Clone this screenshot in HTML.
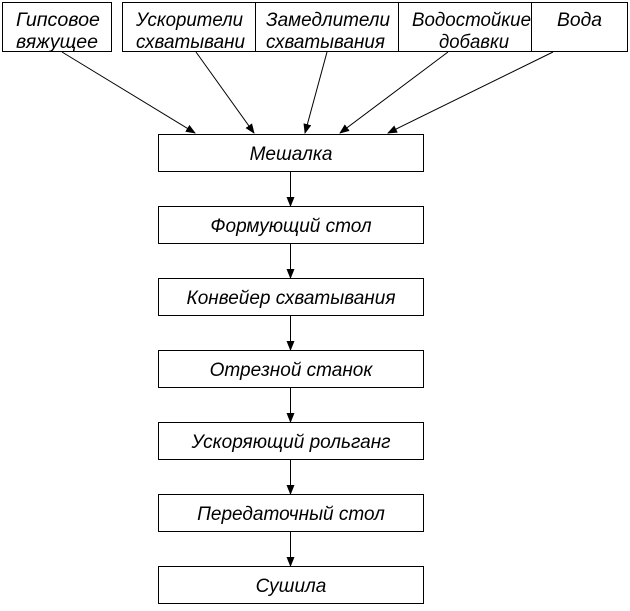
<!DOCTYPE html>
<html><head><meta charset="utf-8"><style>
body{margin:0;background:#fff;width:630px;height:606px;overflow:hidden}
svg text{font-family:"Liberation Sans",sans-serif;font-style:italic;font-size:19px;fill:#000}
</style></head><body>
<svg width="630" height="606" xmlns="http://www.w3.org/2000/svg">
<defs><marker id="a" markerWidth="10" markerHeight="8" refX="9" refY="4" orient="auto" markerUnits="userSpaceOnUse"><path d="M0,0 L10,4 L0,8 z" fill="#000"/></marker></defs>
<g fill="#fff" stroke="#000" stroke-width="1">
<rect x="2.5" y="2.5" width="109" height="49"/>
<rect x="122.5" y="2.5" width="133" height="49"/>
<rect x="255.5" y="2.5" width="143" height="49"/>
<rect x="398.5" y="2.5" width="133" height="49"/>
<rect x="531.5" y="2.5" width="96" height="49"/>
<rect x="158.5" y="134.5" width="265" height="37"/>
<rect x="158.5" y="206.5" width="265" height="37"/>
<rect x="158.5" y="278.5" width="265" height="37"/>
<rect x="158.5" y="350.5" width="265" height="37"/>
<rect x="158.5" y="422.5" width="265" height="37"/>
<rect x="158.5" y="494.5" width="265" height="37"/>
<rect x="158.5" y="566.5" width="265" height="37"/>
</g>
<g stroke="#000" stroke-width="1" marker-end="url(#a)">
<line x1="62" y1="52" x2="195" y2="133"/>
<line x1="196" y1="52" x2="254" y2="133"/>
<line x1="327" y1="52" x2="305" y2="133"/>
<line x1="448" y1="52" x2="340" y2="133"/>
<line x1="553" y1="52" x2="388" y2="133"/>
<line x1="290.5" y1="172" x2="290.5" y2="206"/>
<line x1="290.5" y1="244" x2="290.5" y2="278"/>
<line x1="290.5" y1="316" x2="290.5" y2="350"/>
<line x1="290.5" y1="388" x2="290.5" y2="422"/>
<line x1="290.5" y1="460" x2="290.5" y2="494"/>
<line x1="290.5" y1="532" x2="290.5" y2="566"/>
</g>
<g textLength="0">
<text x="16" y="26" textLength="84" lengthAdjust="spacingAndGlyphs">Гипсовое</text><text x="16" y="48" textLength="82" lengthAdjust="spacingAndGlyphs">вяжущее</text>
<text x="136" y="26" textLength="107" lengthAdjust="spacingAndGlyphs">Ускорители</text><text x="136" y="48" textLength="109" lengthAdjust="spacingAndGlyphs">схватывани</text>
<text x="266" y="26" textLength="124" lengthAdjust="spacingAndGlyphs">Замедлители</text><text x="266" y="48" textLength="119" lengthAdjust="spacingAndGlyphs">схватывания</text>
<text x="412" y="26" textLength="119" lengthAdjust="spacingAndGlyphs">Водостойкие</text><text x="439" y="48" textLength="70" lengthAdjust="spacingAndGlyphs">добавки</text>
<text x="557" y="26" textLength="45" lengthAdjust="spacingAndGlyphs">Вода</text>
</g>
<g text-anchor="middle">
<text x="291" y="160">Мешалка</text>
<text x="291" y="232">Формующий стол</text>
<text x="291" y="304">Конвейер схватывания</text>
<text x="291" y="376">Отрезной станок</text>
<text x="291" y="448">Ускоряющий рольганг</text>
<text x="291" y="520">Передаточный стол</text>
<text x="291" y="592">Сушила</text>
</g>
</svg>
</body></html>
